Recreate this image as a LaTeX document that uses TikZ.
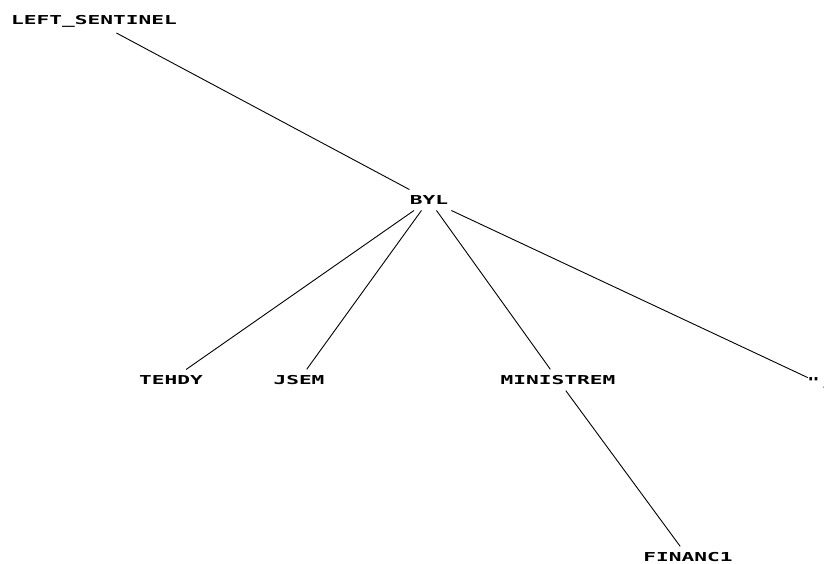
\documentclass[tikz,border=0pt]{standalone}
\usepackage{fontspec}
\newfontfamily\treefont[FakeStretch=1.72]{DejaVu Sans Mono Bold}
\begin{document}
\begin{tikzpicture}[x=1pt,y=-1pt,
  lbl/.style={font=\treefont\fontsize{12.3}{14}\selectfont, inner sep=0pt, outer sep=6pt, anchor=center},
  edge/.style={draw=black, line width=0.9pt}]
\useasboundingbox[fill=white] (0,0) rectangle (824,563);
\begin{scope}
\clip (0,0) rectangle (824,563);
\node[lbl] (ls) at (94,21) {LEFT\_SENTINEL};
\node[lbl] (byl) at (429,200) {BYL};
\node[lbl] (tehdy) at (171,380) {TEHDY};
\node[lbl] (jsem) at (299,380) {JSEM};
\node[lbl] (min) at (558,380) {MINISTREM};
\node[lbl, anchor=west, outer sep=0pt] (q) at (807,383) {",};
\node[lbl] (fin) at (688,557) {FINANC1};
\coordinate (qc) at (815,381);
\draw[edge] (ls) -- (byl);
\draw[edge] (byl) -- (tehdy);
\draw[edge] (byl) -- (jsem);
\draw[edge] (byl) -- (min);
\draw[edge, shorten >=8pt] (byl) -- (qc);
\draw[edge] (min) -- (fin);
\end{scope}
\end{tikzpicture}
\end{document}
